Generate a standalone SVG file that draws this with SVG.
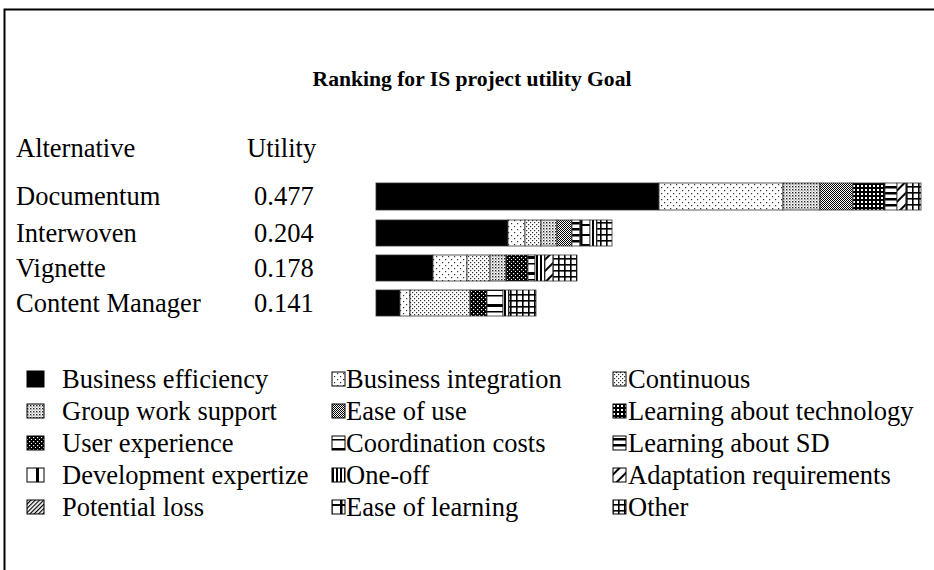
<svg xmlns="http://www.w3.org/2000/svg" width="934" height="570" viewBox="0 0 934 570">
<style>
text{font-family:"Liberation Serif","Times New Roman",serif;fill:#000}
.t{font-size:21.6px;font-weight:bold}
.l{font-size:26.5px}
.seg{stroke:#333;stroke-width:0.8}
.sw{stroke:#000;stroke-width:1}
</style>
<defs>
<pattern id="pBI" width="6" height="6" patternUnits="userSpaceOnUse"><rect width="6" height="6" fill="#fff"/><rect x="1" y="1" width="1.2" height="1.2" fill="#333"/><rect x="4" y="4" width="1.2" height="1.2" fill="#333"/></pattern>
<pattern id="pCO" width="4" height="4" patternUnits="userSpaceOnUse"><rect width="4" height="4" fill="#fff"/><rect x="0" y="0" width="1.2" height="1.2" fill="#333"/><rect x="2" y="2" width="1.2" height="1.2" fill="#333"/></pattern>
<pattern id="pGW" width="3" height="3" patternUnits="userSpaceOnUse"><rect width="3" height="3" fill="#fff"/><rect x="0" y="0" width="1.4" height="1.4" fill="#222"/><rect x="1.5" y="1.5" width="1" height="1" fill="#555"/></pattern>
<pattern id="pEU" width="2" height="2" patternUnits="userSpaceOnUse"><rect width="2" height="2" fill="#fff"/><rect x="0" y="0" width="1" height="1" fill="#000"/><rect x="1" y="1" width="1" height="1" fill="#000"/></pattern>
<pattern id="pLT" width="4" height="4" patternUnits="userSpaceOnUse"><rect width="4" height="4" fill="#000"/><rect x="1" y="1" width="2" height="2" fill="#fff"/></pattern>
<pattern id="pUE" width="4" height="4" patternUnits="userSpaceOnUse"><rect width="4" height="4" fill="#000"/><rect x="1" y="1" width="1.2" height="1.2" fill="#fff"/><rect x="3" y="3" width="1" height="1" fill="#fff"/></pattern>
<pattern id="pCC" width="10" height="16" patternUnits="userSpaceOnUse"><rect width="10" height="16" fill="#fff"/><rect y="0" width="10" height="3" fill="#000"/><rect y="7" width="10" height="1.5" fill="#000"/></pattern>
<pattern id="pLS" width="6" height="6" patternUnits="userSpaceOnUse"><rect width="6" height="6" fill="#fff"/><rect y="0" width="6" height="2.5" fill="#000"/></pattern>
<pattern id="pDE" width="12" height="10" patternUnits="userSpaceOnUse"><rect width="12" height="10" fill="#fff"/><rect x="0" width="3" height="10" fill="#000"/></pattern>
<pattern id="pOO" width="4" height="4" patternUnits="userSpaceOnUse"><rect width="4" height="4" fill="#fff"/><rect x="0" width="2" height="4" fill="#000"/></pattern>
<pattern id="pAD" width="8" height="8" patternUnits="userSpaceOnUse" patternTransform="rotate(45)"><rect width="8" height="8" fill="#fff"/><rect x="0" width="2" height="8" fill="#000"/></pattern>
<pattern id="pPL" width="3" height="3" patternUnits="userSpaceOnUse" patternTransform="rotate(45)"><rect width="3" height="3" fill="#fff"/><rect x="0" width="1.2" height="3" fill="#000"/></pattern>
<pattern id="pEL" width="10" height="10" patternUnits="userSpaceOnUse"><rect width="10" height="10" fill="#fff"/><rect x="0" width="2.5" height="10" fill="#000"/><rect x="0" y="4" width="10" height="2" fill="#000"/></pattern>
<pattern id="pOT" width="6" height="6" patternUnits="userSpaceOnUse"><rect width="6" height="6" fill="#fff"/><rect x="0" width="1.6" height="6" fill="#000"/><rect y="0" width="6" height="1.6" fill="#000"/></pattern>
</defs>
<rect width="934" height="570" fill="#fff"/>
<rect x="4.5" y="9.5" width="960" height="600" fill="none" stroke="#000" stroke-width="2"/>

<text class="t" x="472" y="86" text-anchor="middle">Ranking for IS project utility Goal</text>

<g id="header">
<text class="l" x="16" y="157">Alternative</text>
<text class="l" x="247" y="157">Utility</text>
</g>

<g id="row-documentum">
<text class="l" x="16" y="205">Documentum</text>
<text class="l" x="254" y="205">0.477</text>
<rect class="seg" x="376" y="183" width="283" height="27" fill="#000"/>
<rect class="seg" x="659" y="183" width="124" height="27" fill="url(#pBI)"/>
<rect class="seg" x="783" y="183" width="37" height="27" fill="url(#pGW)"/>
<rect class="seg" x="820" y="183" width="33" height="27" fill="url(#pEU)"/>
<rect class="seg" x="853" y="183" width="32" height="27" fill="url(#pLT)"/>
<rect class="seg" x="885" y="183" width="12" height="27" fill="url(#pLS)"/>
<rect class="seg" x="897" y="183" width="9" height="27" fill="url(#pAD)"/>
<rect class="seg" x="906" y="183" width="15" height="27" fill="url(#pOT)"/>
</g>

<g id="row-interwoven">
<text class="l" x="16" y="242">Interwoven</text>
<text class="l" x="254" y="242">0.204</text>
<rect class="seg" x="376" y="220" width="132" height="26" fill="#000"/>
<rect class="seg" x="508" y="220" width="17" height="26" fill="url(#pBI)"/>
<rect class="seg" x="525" y="220" width="16" height="26" fill="url(#pCO)"/>
<rect class="seg" x="541" y="220" width="16" height="26" fill="url(#pGW)"/>
<rect class="seg" x="557" y="220" width="15" height="26" fill="url(#pEU)"/>
<rect class="seg" x="572" y="220" width="8" height="26" fill="url(#pLS)"/>
<rect class="seg" x="580" y="220" width="10" height="26" fill="url(#pEL)"/>
<rect class="seg" x="590" y="220" width="7" height="26" fill="url(#pOO)"/>
<rect class="seg" x="597" y="220" width="15" height="26" fill="url(#pOT)"/>
</g>

<g id="row-vignette">
<text class="l" x="16" y="277">Vignette</text>
<text class="l" x="254" y="277">0.178</text>
<rect class="seg" x="376" y="255" width="57" height="26" fill="#000"/>
<rect class="seg" x="433" y="255" width="34" height="26" fill="url(#pBI)"/>
<rect class="seg" x="467" y="255" width="23" height="26" fill="url(#pCO)"/>
<rect class="seg" x="490" y="255" width="16" height="26" fill="url(#pGW)"/>
<rect class="seg" x="506" y="255" width="22" height="26" fill="url(#pUE)"/>
<rect class="seg" x="528" y="255" width="7" height="26" fill="url(#pCC)"/>
<rect class="seg" x="535" y="255" width="10" height="26" fill="url(#pOO)"/>
<rect class="seg" x="545" y="255" width="8" height="26" fill="url(#pAD)"/>
<rect class="seg" x="553" y="255" width="24" height="26" fill="url(#pOT)"/>
</g>

<g id="row-content-manager">
<text class="l" x="16" y="312">Content Manager</text>
<text class="l" x="254" y="312">0.141</text>
<rect class="seg" x="376" y="290" width="24" height="26" fill="#000"/>
<rect class="seg" x="400" y="290" width="10" height="26" fill="url(#pBI)"/>
<rect class="seg" x="410" y="290" width="60" height="26" fill="url(#pCO)"/>
<rect class="seg" x="470" y="290" width="17" height="26" fill="url(#pUE)"/>
<rect class="seg" x="487" y="290" width="16" height="26" fill="url(#pCC)"/>
<rect class="seg" x="503" y="290" width="6" height="26" fill="url(#pOO)"/>
<rect class="seg" x="509" y="290" width="27" height="26" fill="url(#pOT)"/>
</g>

<g id="legend">
<rect class="sw" x="27" y="371" width="17" height="16" fill="#000"/>
<text class="l" x="62" y="388">Business efficiency</text>
<rect class="sw" x="332" y="372" width="13" height="14" fill="url(#pBI)"/>
<text class="l" x="346" y="388">Business integration</text>
<rect class="sw" x="613" y="372" width="13" height="14" fill="url(#pCO)"/>
<text class="l" x="628" y="388">Continuous</text>

<rect class="sw" x="27" y="404" width="17" height="14" fill="url(#pGW)"/>
<text class="l" x="62" y="420">Group work support</text>
<rect class="sw" x="332" y="404" width="13" height="14" fill="url(#pEU)"/>
<text class="l" x="346" y="420">Ease of use</text>
<rect class="sw" x="613" y="404" width="13" height="14" fill="url(#pLT)"/>
<text class="l" x="628" y="420">Learning about technology</text>

<rect class="sw" x="27" y="436" width="17" height="14" fill="url(#pUE)"/>
<text class="l" x="62" y="452">User experience</text>
<rect class="sw" x="332" y="436" width="13" height="14" fill="url(#pCC)"/>
<text class="l" x="346" y="452">Coordination costs</text>
<rect class="sw" x="613" y="436" width="13" height="14" fill="url(#pLS)"/>
<text class="l" x="628" y="452">Learning about SD</text>

<rect class="sw" x="27" y="468" width="17" height="14" fill="url(#pDE)"/>
<text class="l" x="62" y="484">Development expertize</text>
<rect class="sw" x="332" y="468" width="13" height="14" fill="url(#pOO)"/>
<text class="l" x="346" y="484">One-off</text>
<rect class="sw" x="613" y="468" width="13" height="14" fill="url(#pAD)"/>
<text class="l" x="628" y="484">Adaptation requirements</text>

<rect class="sw" x="27" y="500" width="17" height="14" fill="url(#pPL)"/>
<text class="l" x="62" y="516">Potential loss</text>
<rect class="sw" x="332" y="500" width="13" height="14" fill="url(#pEL)"/>
<text class="l" x="346" y="516">Ease of learning</text>
<rect class="sw" x="613" y="500" width="13" height="14" fill="url(#pOT)"/>
<text class="l" x="628" y="516">Other</text>
</g>
</svg>
